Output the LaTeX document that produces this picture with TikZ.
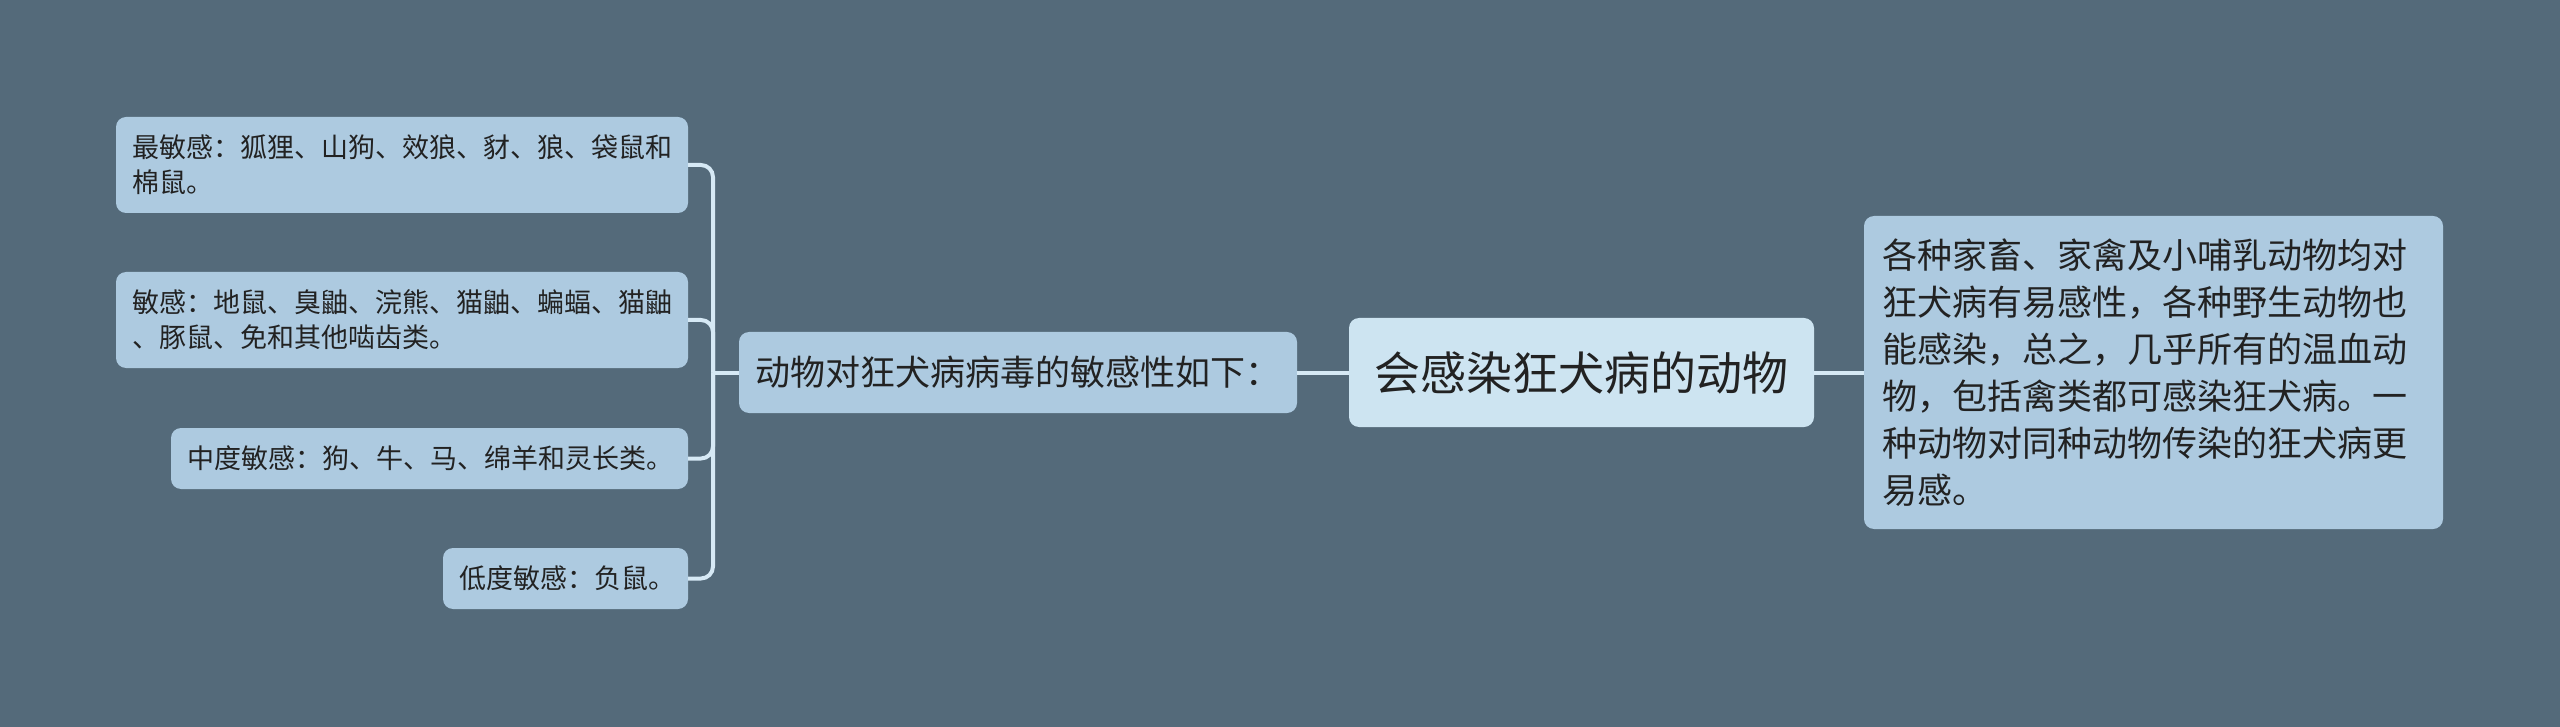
\documentclass[tikz,border=0pt]{standalone}
\usepackage{fontspec}
\setmainfont{Noto Sans CJK SC}
\definecolor{bgc}{HTML}{546A7A}
\definecolor{boxc}{HTML}{ADCAE0}
\definecolor{rootc}{HTML}{CDE4F1}
\definecolor{linec}{HTML}{D6E9F5}
\definecolor{txtc}{HTML}{222222}
\tikzset{
  base/.style={rectangle, rounded corners=10pt, inner sep=0pt, text=txtc, anchor=center},
  leafbox/.style={base, fill=boxc, font=\fontsize{27pt}{35pt}\selectfont, align=left},
  midbox/.style={base, fill=boxc, font=\fontsize{35pt}{42pt}\selectfont, align=left},
  rootbox/.style={base, fill=rootc, font=\fontsize{46pt}{55pt}\selectfont},
  infobox/.style={base, fill=boxc, font=\fontsize{35pt}{47pt}\selectfont, align=left},
  conn/.style={draw=linec, line width=4pt},
}
\begin{document}
\begin{tikzpicture}[x=1pt,y=-1pt]
\fill[bgc] (0,0) rectangle (2560,727);
\useasboundingbox (0,0) rectangle (2560,727);

\node[rootbox, minimum width=465pt, minimum height=109pt] (root) at (1581.5,372.5) {会感染狂犬病的动物};
\node[midbox, minimum width=558pt, minimum height=81pt, text width=526pt] (mid) at (1018,372.5) {动物对狂犬病病毒的敏感性如下：};
\node[infobox, minimum width=579pt, minimum height=313pt, text width=543pt] (info) at (2153.5,372.5) {各种家畜、家禽及小哺乳动物均对\\狂犬病有易感性，各种野生动物也\\能感染，总之，几乎所有的温血动\\物，包括禽类都可感染狂犬病。一\\种动物对同种动物传染的狂犬病更\\易感。};

\node[leafbox, minimum width=572pt, minimum height=96pt, text width=540pt] (l1) at (402,165) {最敏感：狐狸、山狗、效狼、豺、狼、袋鼠和\\棉鼠。};
\node[leafbox, minimum width=572pt, minimum height=96pt, text width=540pt] (l2) at (402,320) {敏感：地鼠、臭鼬、浣熊、猫鼬、蝙蝠、猫鼬\\、豚鼠、免和其他啮齿类。};
\node[leafbox, minimum width=517pt, minimum height=61pt, text width=485pt] (l3) at (429.5,458.5) {中度敏感：狗、牛、马、绵羊和灵长类。};
\node[leafbox, minimum width=245pt, minimum height=61pt, text width=213pt] (l4) at (565.5,578.5) {低度敏感：负鼠。};

\coordinate (j) at (713,372.5);

\draw[conn] (root.west) -- (mid.east);
\draw[conn] (root.east) -- (info.west);
\draw[conn] (mid.west) -- (j);
\foreach \c in {l1,l2,l3,l4}{
  \draw[conn, rounded corners=12pt] (j) |- (\c.east);
}
\end{tikzpicture}
\end{document}
